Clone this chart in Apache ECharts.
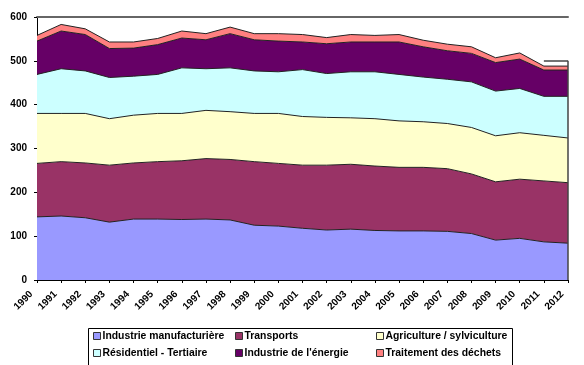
<!DOCTYPE html>
<html>
<head>
<meta charset="utf-8">
<script src="https://cdn.jsdelivr.net/npm/echarts@6/dist/echarts.min.js"></script>
<style>
html,body{margin:0;padding:0;background:#fff;}
#c{width:584px;height:365px;}
</style>
</head>
<body>
<div id="c"></div>
<script>
const years = ['1990','1991','1992','1993','1994','1995','1996','1997','1998','1999','2000','2001','2002','2003','2004','2005','2006','2007','2008','2009','2010','2011','2012'];
const industrieManuf = [144,146,142,132,139,139,138,139,137,125,123,118,114,116,113,112,112,111,106,91,95,87,84];
const transports     = [122,124,125,130,128,131,134,138,138,145,143,144,148,148,147,145,145,143,136,133,135,139,138];
const agriculture    = [114,110,113,106,109,110,108,110,109,110,114,111,109,106,108,106,104,103,106,105,106,104,102];
const residentiel    = [89,102,97,94,89,89,104,95,100,97,95,107,100,105,107,106,102,101,104,102,101,89,95];
const energie        = [76,86,83,66,64,68,68,66,78,71,70,63,68,68,68,74,69,65,65,65,67,60,60];
const dechets        = [13,15,13,15,14,14,16,14,15,14,17,17,14,17,15,17,15,15,15,11,14,9,9];
const seriesNames = ['Industrie manufacturière','Transports','Agriculture / sylviculture','Résidentiel - Tertiaire',"Industrie de l'énergie",'Traitement des déchets'];
const seriesData = [industrieManuf, transports, agriculture, residentiel, energie, dechets];
const colors = ['#9999FF','#993366','#FFFFCC','#CCFFFF','#660066','#FF8080'];
const yTicks = [0,100,200,300,400,500,600];
const outlineLevel = 500;

const chart = echarts.init(document.getElementById('c'));
const font = 'Liberation Sans, Arial, sans-serif';

const series = seriesNames.map((n, i) => ({
  name: n,
  type: 'line',
  stack: 'total',
  data: seriesData[i],
  symbol: 'none',
  smooth: false,
  itemStyle: { color: colors[i] },
  lineStyle: { color: '#222', width: 1 },
  areaStyle: { color: colors[i], opacity: 1 },
  emphasis: { disabled: true },
  z: 2
}));
series[5].markLine = {
  silent: true, symbol: 'none', animation: false,
  lineStyle: { color: '#444', width: 1.5, type: 'solid' },
  label: { show: false },
  data: [
    [{ coord: [years[21], outlineLevel] }, { coord: [years[22], outlineLevel] }],
    [{ coord: [years[22], outlineLevel] }, { coord: [years[22], 0] }]
  ]
};

const legendCommon = {
  orient: 'vertical',
  top: 330,
  padding: 0,
  itemGap: 5,
  itemWidth: 7,
  itemHeight: 7,
  icon: 'rect',
  selectedMode: false,
  itemStyle: { borderColor: '#333', borderWidth: 1 },
  textStyle: { fontFamily: font, fontSize: 10.4, fontWeight: 'bold', color: '#000', padding: [0,0,0,-3], lineHeight: 12 }
};

chart.setOption({
  animation: false,
  backgroundColor: '#fff',
  grid: { left: 37, right: 16, top: 17, bottom: 85 },
  xAxis: [{
    type: 'category',
    data: years,
    boundaryGap: false,
    axisLine: { lineStyle: { color: '#000', width: 1 } },
    axisTick: { show: true, alignWithLabel: true, length: 3, lineStyle: { color: '#000' } },
    axisLabel: { rotate: 45, interval: 0, margin: 7, padding: [0, 8, 0, 0], fontFamily: font, fontSize: 10, fontWeight: 'bold', color: '#000' },
    splitLine: { show: false }
  }, {
    type: 'category',
    data: years,
    position: 'top',
    boundaryGap: false,
    axisLine: { show: true, lineStyle: { color: '#666', width: 2 } },
    axisTick: { show: false },
    axisLabel: { show: false }
  }],
  yAxis: {
    type: 'value',
    min: yTicks[0],
    max: yTicks[yTicks.length - 1],
    interval: 100,
    axisLine: { show: true, lineStyle: { color: '#000', width: 1 } },
    axisTick: { show: true, length: 3, lineStyle: { color: '#000' } },
    axisLabel: { margin: 10, fontFamily: font, fontSize: 10, fontWeight: 'bold', color: '#000' },
    splitLine: { show: false }
  },
  legend: [
    Object.assign({}, legendCommon, { left: 93, data: [seriesNames[0], seriesNames[3]] }),
    Object.assign({}, legendCommon, { left: 235, data: [seriesNames[1], seriesNames[4]] }),
    Object.assign({}, legendCommon, { left: 376, data: [seriesNames[2], seriesNames[5]] })
  ],
  graphic: [{
    type: 'rect',
    left: 86, top: 326,
    shape: { width: 424, height: 37 },
    style: { fill: 'none', stroke: '#000', lineWidth: 1 },
    z: 0
  }],
  series: series
});
</script>
</body>
</html>
